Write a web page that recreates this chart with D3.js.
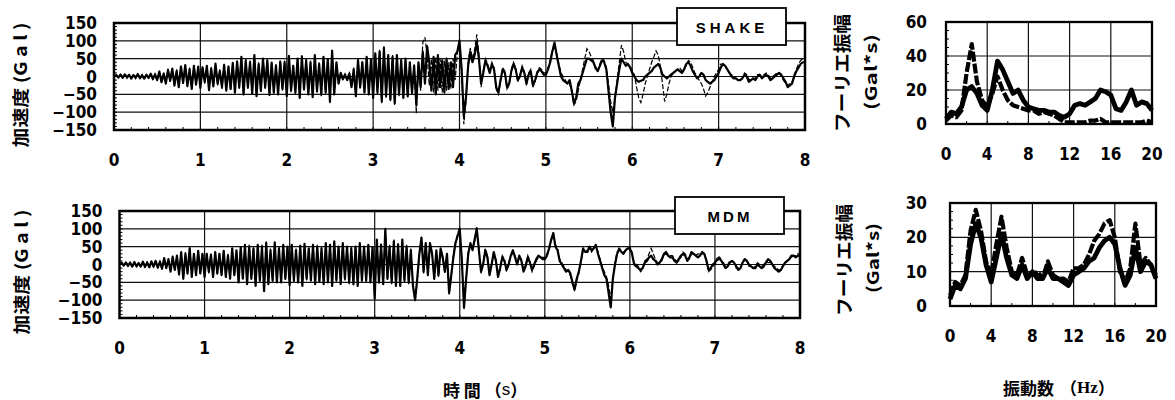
<!DOCTYPE html>
<html><head><meta charset="utf-8">
<script src="https://cdn.jsdelivr.net/npm/d3@7"></script>
<style>
body{margin:0;background:#fff}
.num{font-family:"DejaVu Sans Condensed","Liberation Sans Narrow","DejaVu Sans",sans-serif;font-stretch:condensed;font-weight:bold;font-size:17px;fill:#000}
.jp{font-family:"Noto Sans CJK JP",sans-serif;font-weight:bold;fill:#000}
</style></head>
<body><svg id="c" width="1175" height="400"></svg>
<script>
// ---------- data ----------
const timeTicks = [0,1,2,3,4,5,6,7,8];
const accTicks = [150,100,50,0,-50,-100,-150];
const accGrid = [100,50,0,-50,-100];
const freqTicks = [0,4,8,12,16,20];
const shakeSpecTicks = [0,20,40,60];
const mdmSpecTicks = [0,10,20,30];
const dt = 0.025;  // s, sampling of the time histories (one row = 0.5 s)
const df = 0.5;    // Hz, sampling of the spectra

const shakeObs = [
 0,4,-3,5,-4,6,-2,5,-6,4,-3,7,-5,3,-6,5,-4,8,-7,6,
 -10,14,-16,8,-20,18,-12,22,-25,15,-30,28,-18,32,-26,20,-35,30,-22,28,
 -32,25,-15,30,-38,22,-28,36,-20,15,-30,32,-40,28,-35,38,-45,42,-30,55,
 -50,45,-30,40,-48,60,-55,35,-40,50,-30,45,-52,38,-45,30,-50,42,-35,40,
 -55,58,-40,30,-45,50,-60,55,-35,45,-50,40,-58,60,-42,35,-50,55,-45,48,
 -70,72,-50,40,-20,10,-8,5,-10,8,-30,20,-55,45,-30,40,-45,55,-50,48,
 -60,65,-45,70,-70,80,-55,60,-65,55,-75,60,-50,45,-60,50,-55,40,-45,30,
 -80,40,-30,70,-20,85,40,-40,55,-50,60,-30,45,-45,50,-35,40,-30,60,70,
 100,20,-110,-60,30,70,40,60,95,50,-20,10,45,30,10,35,20,-30,-45,-10,
 20,10,-30,-20,15,35,20,-10,0,25,10,-20,5,15,-25,-10,10,20,15,5,
 5,20,40,70,95,60,30,0,-10,-15,-20,-10,-40,-75,-60,-20,-10,10,30,50,
 50,45,40,25,15,30,45,40,20,-40,-100,-140,-60,-20,20,50,40,30,35,25,
 10,0,-10,-15,-12,-10,0,5,10,15,25,30,35,25,5,0,-5,0,5,10,
 15,20,15,10,20,35,40,30,15,5,-5,0,10,5,-10,-15,-20,-15,-10,0,
 10,25,35,30,20,10,0,-5,-5,-10,-10,-5,5,0,-15,-10,-5,-10,0,5,
 -5,0,5,0,-10,-5,0,5,10,5,-5,-15,-30,-25,-20,0,15,25,35,40,
 40];
const shakeSim = [
 0,3,-4,6,-3,5,-5,4,-4,6,-6,5,-3,6,-7,4,-5,7,-8,8,
 -8,16,-12,10,-18,22,-15,18,-28,20,-25,30,-22,28,-30,25,-32,32,-25,26,
 -28,30,-20,25,-35,28,-30,32,-25,20,-35,38,-38,30,-40,35,-42,45,-35,50,
 -55,48,-35,45,-50,55,-50,40,-45,52,-35,48,-48,42,-40,35,-45,45,-40,45,
 -50,55,-45,35,-50,48,-55,60,-40,50,-52,45,-55,58,-45,40,-55,52,-48,52,
 -75,75,-45,35,-15,5,-5,8,-6,10,-25,25,-50,50,-35,45,-45,50,-48,50,
 -55,60,-50,75,-75,85,-60,55,-70,60,-80,55,-55,50,-60,45,-60,40,-50,35,
 -103,40,-40,95,110,60,-25,50,-45,55,-40,50,-45,45,-40,40,-35,50,-10,65,
 105,0,-134,-70,40,80,50,75,118,60,-30,15,50,35,15,40,25,-35,-50,-15,
 25,15,-35,-25,20,40,25,-15,5,30,15,-25,10,20,-30,-15,15,25,20,10,
 10,25,45,75,90,65,35,10,0,-10,-20,-20,-45,-80,-70,-40,-10,20,50,78,
 70,55,45,20,15,35,50,45,25,-20,-70,-100,-60,-10,40,88,70,40,35,30,
 15,5,-30,-60,-73,-50,-20,0,20,40,55,72,60,30,-20,-70,-50,-20,0,10,
 15,20,25,15,20,30,45,40,25,10,0,-10,-20,-35,-55,-45,-30,-15,0,10,
 20,35,35,30,20,10,5,0,-5,-10,-10,-5,10,5,-10,-5,-5,-5,5,5,
 0,5,10,5,-5,0,5,10,10,0,-10,-20,-25,-20,-15,5,20,35,45,50,
 50];
const mdmObs = [
 0,5,-3,6,-4,5,-6,7,-5,4,-6,8,-7,6,-8,9,-6,10,-9,8,
 -12,18,-10,15,-20,22,-15,25,-28,35,-40,30,-25,45,-35,30,-30,38,-25,30,
 -35,30,-20,28,-35,35,-25,30,-30,38,-35,25,-40,45,-30,40,-50,48,-40,55,
 -55,50,-40,45,-60,55,-45,50,-75,60,-55,40,-45,62,-50,45,-50,55,-40,50,
 -58,55,-45,40,-50,52,-60,58,-40,45,-45,55,-55,50,-48,45,-55,60,-50,55,
 -60,65,-45,50,-55,60,-40,50,-50,45,-55,50,-60,60,-45,50,-45,55,-50,48,
 -95,70,-50,55,-55,100,-40,50,-50,65,-60,55,-60,70,-45,50,-50,40,-60,-100,
 -40,30,75,-20,60,-30,60,30,-40,40,-30,45,20,-20,30,-80,-30,20,60,80,
 100,10,-120,-40,30,60,40,70,100,40,-20,0,40,20,-30,0,35,10,-35,-10,
 20,10,-15,0,25,40,20,0,25,10,-20,-5,20,5,-15,0,15,25,20,15,
 15,25,45,70,88,50,40,10,0,-10,-20,-15,-25,-50,-70,-40,-20,10,45,35,
 35,50,40,45,55,30,10,-10,-30,-40,-80,-120,-40,0,30,45,35,30,40,45,
 45,30,0,-5,-10,-15,-10,5,10,20,25,15,10,0,5,15,30,35,25,20,
 20,10,5,15,25,30,25,10,20,35,30,25,20,25,35,30,10,-15,-10,0,
 5,15,20,10,0,-10,-5,5,10,5,-5,-15,-10,5,15,10,0,-5,-10,-10,
 0,-5,-10,-5,5,15,10,0,-10,-15,-20,-15,-5,5,10,15,25,25,20,25,
 25];
const mdmSim = [
 0,4,-4,5,-5,6,-5,6,-6,5,-7,7,-6,7,-7,8,-7,9,-8,9,
 -14,16,-12,17,-18,20,-18,22,-30,32,-42,35,-28,48,-32,32,-32,35,-28,32,
 -32,32,-25,30,-38,33,-28,32,-28,40,-38,30,-38,42,-32,38,-52,50,-42,52,
 -52,55,-42,48,-58,52,-48,55,-70,65,-50,45,-48,60,-52,48,-52,52,-45,52,
 -55,58,-48,45,-52,55,-58,55,-45,48,-48,55,-52,55,-50,48,-52,58,-48,58,
 -62,62,-48,52,-50,58,-45,52,-55,48,-58,52,-58,58,-48,52,-50,52,-50,52,
 -100,65,-55,60,-60,95,-45,55,-55,70,-55,60,-55,65,-50,55,-55,45,-55,-105,
 -45,25,78,-25,55,-25,55,35,-45,35,-35,40,15,-25,25,-85,-35,25,65,85,
 105,15,-125,-45,35,55,45,65,105,45,-25,5,45,25,-25,5,30,15,-30,-15,
 25,15,-20,5,20,35,25,5,20,15,-15,0,25,10,-20,-5,10,20,20,20,
 20,30,40,65,90,55,45,15,5,-5,-15,-20,-30,-55,-75,-45,-25,5,40,40,
 40,45,35,45,55,35,15,-5,-20,-35,-60,-95,-40,5,35,40,35,35,40,40,
 50,35,5,0,-5,-20,-15,10,15,30,45,30,15,5,5,10,25,30,25,25,
 25,15,10,10,20,35,30,15,15,30,30,25,30,30,30,30,15,-20,-15,-5,
 0,10,15,10,5,-5,0,10,10,5,-10,-10,-10,5,15,10,-5,-5,-10,-5,
 5,0,-5,0,10,5,5,0,-5,-10,-15,-15,0,5,10,15,20,25,25,30,
 30];

const shakeSpecObs = [3,7,6,10,20,22,18,11,8,20,37,32,25,18,20,14,10,9,8,8,7,7,5,4,6,11,12,11,13,15,20,19,17,9,8,13,20,11,13,12,8];
const shakeSpecSim = [2,5,4,8,30,47,25,14,10,18,28,20,14,11,10,9,8,8,6,7,6,5,3,1,1,1,1,1,2,2,3,1,1,1,1,1,1,1,1,2,1];
const mdmSpecObs = [2,6,5,8,18,24,20,12,7,14,21,14,9,8,12,8,10,8,8,11,8,8,7,6,9,10,11,13,14,17,19,20,18,11,6,9,17,10,13,12,8];
const mdmSpecSim = [3,7,6,9,22,28,22,13,9,18,26,17,10,9,14,9,9,10,8,13,9,8,8,7,11,11,12,15,19,21,24,25,20,10,7,11,24,12,14,12,9];

// ---------- drawing ----------
const svg = d3.select("#c");

function frame(g, x, y, L, R, T, B, xGrid, yGrid, xMinor, yMinor){
  g.append("g").selectAll("line").data(xGrid).join("line")
    .attr("x1",d=>x(d)).attr("x2",d=>x(d)).attr("y1",T).attr("y2",B)
    .attr("stroke","#111").attr("stroke-width",1.2);
  g.append("g").selectAll("line").data(yGrid).join("line")
    .attr("x1",L).attr("x2",R).attr("y1",d=>y(d)).attr("y2",d=>y(d))
    .attr("stroke","#111").attr("stroke-width",1.2);
  g.append("g").selectAll("line").data(xMinor).join("line")
    .attr("x1",d=>x(d)).attr("x2",d=>x(d)).attr("y1",B).attr("y2",B-3)
    .attr("stroke","#000").attr("stroke-width",1);
  g.append("g").selectAll("line").data(yMinor).join("line")
    .attr("x1",L).attr("x2",L+3).attr("y1",d=>y(d)).attr("y2",d=>y(d))
    .attr("stroke","#000").attr("stroke-width",1);
}

function timePanel(o){
  const x = d3.scaleLinear().domain([0,8]).range([o.L,o.R]);
  const y = d3.scaleLinear().domain([-150,150]).range([o.B,o.T]);
  const g = svg.append("g");
  frame(g,x,y,o.L,o.R,o.T,o.B,timeTicks.slice(1,-1),accGrid,d3.range(0,8.001,0.2),d3.range(-150,151,10));
  const line = d3.line().x((d,i)=>x(i*dt)).y(d=>y(d));
  g.append("path").attr("d",line(o.sim)).attr("fill","none")
    .attr("stroke","#000").attr("stroke-width",1.2).attr("stroke-dasharray","5,2");
  g.append("path").attr("d",line(o.obs)).attr("fill","none")
    .attr("stroke","#000").attr("stroke-width",2.2).attr("stroke-linejoin","round");
  g.append("rect").attr("x",o.L).attr("y",o.T).attr("width",o.R-o.L).attr("height",o.B-o.T)
    .attr("fill","none").attr("stroke","#000").attr("stroke-width",2.5);
  g.append("g").selectAll("text").data(accTicks).join("text").attr("class","num")
    .attr("x",o.L-17).attr("y",d=>y(d)).attr("text-anchor","end").attr("dominant-baseline","central")
    .text(d=>d<0?"\u2212"+(-d):d);
  g.append("g").selectAll("text").data(timeTicks).join("text").attr("class","num")
    .attr("x",d=>x(d)).attr("y",o.B+30).attr("text-anchor","middle").attr("dominant-baseline","central")
    .text(d=>d);
  g.append("rect").attr("x",o.boxX).attr("y",o.boxY).attr("width",109).attr("height",37)
    .attr("fill","#fff").attr("stroke","#000").attr("stroke-width",1.8);
  g.append("text").attr("x",o.boxX+55).attr("y",o.boxY+19).attr("text-anchor","middle")
    .attr("dominant-baseline","central")
    .style("font-family","'Liberation Sans',Arial,sans-serif").style("font-size","15px")
    .style("font-weight","bold").style("letter-spacing",o.ls+"px").text(o.label);
  g.append("text").attr("class","jp")
    .attr("transform",`translate(${o.titleX},${o.titleY}) rotate(-90)`)
    .attr("text-anchor","middle").attr("dominant-baseline","central")
    .attr("textLength",125).attr("lengthAdjust","spacingAndGlyphs")
    .style("font-size","17px").text("加速度 (G a l )");
}

function specPanel(o){
  const x = d3.scaleLinear().domain([0,20]).range([o.L,o.R]);
  const y = d3.scaleLinear().domain([0,o.ymax]).range([o.B,o.T]);
  const g = svg.append("g");
  frame(g,x,y,o.L,o.R,o.T,o.B,freqTicks.slice(1,-1),o.yt.slice(1,-1),d3.range(0,20.01,2),d3.range(0,o.ymax+0.01,o.ymax/12));
  const line = d3.line().x((d,i)=>x(i*df)).y(d=>y(d));
  g.append("path").attr("d",line(o.obs)).attr("fill","none")
    .attr("stroke","#000").attr("stroke-width",4.8).attr("stroke-linejoin","round");
  g.append("path").attr("d",line(o.sim)).attr("fill","none")
    .attr("stroke","#000").attr("stroke-width",4.2).attr("stroke-dasharray","10,2").attr("stroke-linejoin","round");
  g.append("rect").attr("x",o.L).attr("y",o.T).attr("width",o.R-o.L).attr("height",o.B-o.T)
    .attr("fill","none").attr("stroke","#000").attr("stroke-width",2.3);
  g.append("g").selectAll("text").data(o.yt).join("text").attr("class","num")
    .attr("x",o.L-o.pad).attr("y",d=>y(d)).attr("text-anchor","end").attr("dominant-baseline","central")
    .text(d=>d);
  g.append("g").selectAll("text").data(freqTicks).join("text").attr("class","num")
    .attr("x",d=>x(d)).attr("y",o.B+30).attr("text-anchor","middle").attr("dominant-baseline","central")
    .text(d=>d);
  g.append("text").attr("class","jp")
    .attr("transform",`translate(${o.t1x},${o.t1y}) rotate(-90)`)
    .attr("text-anchor","middle").attr("dominant-baseline","central")
    .style("font-size","18px").attr("textLength",o.t1len).attr("lengthAdjust","spacingAndGlyphs").text("フーリエ振幅");
  g.append("text").attr("class","jp")
    .attr("transform",`translate(${o.t2x},${o.t2y}) rotate(-90)`)
    .attr("text-anchor","middle").attr("dominant-baseline","central")
    .style("font-size","16px").attr("textLength",o.t2len).attr("lengthAdjust","spacingAndGlyphs").text("(Gal*s)");
}

timePanel({L:114,R:805,T:23,B:130,obs:shakeObs,sim:shakeSim,boxX:677,boxY:8,label:"SHAKE",ls:4,titleX:19,titleY:85});
timePanel({L:119.5,R:800,T:211,B:318,obs:mdmObs,sim:mdmSim,boxX:675,boxY:197,label:"MDM",ls:3,titleX:20,titleY:272});

specPanel({L:946,R:1152,T:22,B:124,ymax:60,yt:shakeSpecTicks,obs:shakeSpecObs,sim:shakeSpecSim,pad:19,
  t1x:841,t1y:73,t1len:118,t2x:870,t2y:72,t2len:76});
specPanel({L:950,R:1156,T:203,B:306,ymax:30,yt:mdmSpecTicks,obs:mdmSpecObs,sim:mdmSpecSim,pad:23,
  t1x:843,t1y:260,t1len:112,t2x:872,t2y:258,t2len:70});

const tt = svg.append("text").attr("class","jp").attr("x",443).attr("y",388.5)
  .attr("dominant-baseline","central").style("font-size","17px");
tt.append("tspan").text("時 間");
tt.append("tspan").attr("dx",4).text("（");
tt.append("tspan").style("font-family","'Liberation Sans',sans-serif").style("font-weight","normal").text("s");
tt.append("tspan").text("）");
const ft = svg.append("text").attr("class","jp").attr("x",1003).attr("y",387)
  .attr("dominant-baseline","central").style("font-size","17px");
ft.append("tspan").text("振動数");
ft.append("tspan").attr("dx",6).text("（");
ft.append("tspan").style("font-family","'Liberation Serif',serif").text("Hz");
ft.append("tspan").text("）");
</script>
</body></html>
